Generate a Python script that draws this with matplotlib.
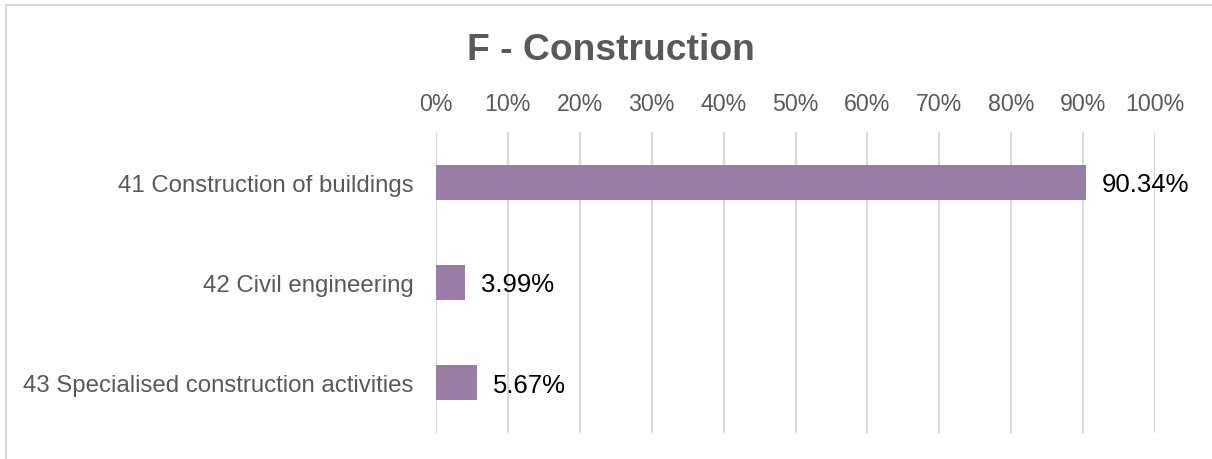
import matplotlib
matplotlib.use("Agg")
import matplotlib.pyplot as plt
from matplotlib.patches import Rectangle
from matplotlib.ticker import PercentFormatter

# Data
categories = ["41 Construction of buildings",
              "42 Civil engineering",
              "43 Specialised construction activities"]
shares = [90.34, 3.99, 5.67]
value_labels = ["90.34%", "3.99%", "5.67%"]
x_ticks = list(range(0, 101, 10))

BAR_COLOR = "#987EA6"
GRID_COLOR = "#D9D9D9"
TEXT_GRAY = "#595959"
W, H = 1212, 460

plt.rcParams["font.family"] = ["Liberation Sans", "DejaVu Sans"]

fig = plt.figure(figsize=(W / 100, H / 100), dpi=100)
ax = fig.add_axes([436 / W, 1 - 434 / H, (1155 - 436) / W, (434 - 133) / H])

y_pos = list(range(len(categories)))
ax.barh(y_pos, shares, height=0.35, color=BAR_COLOR, zorder=3)

for y, v, lab in zip(y_pos, shares, value_labels):
    ax.annotate(lab, xy=(v, y), xytext=(16, -2), textcoords="offset pixels",
                ha="left", va="center", fontsize=18.5, color="black")

ax.set_xlim(0, 100)
ax.set_ylim(len(categories) - 0.5, -0.5)
ax.set_xticks(x_ticks)
ax.xaxis.set_major_formatter(PercentFormatter(decimals=0))
ax.xaxis.tick_top()
ax.set_yticks(y_pos)
ax.set_yticklabels(categories)
ax.tick_params(axis="x", length=0, pad=12, labelsize=16.7, labelcolor=TEXT_GRAY)
ax.tick_params(axis="y", length=0, pad=16, labelsize=17.3, labelcolor=TEXT_GRAY)
ax.grid(axis="x", color=GRID_COLOR, linewidth=1.5, zorder=0)
for s in ax.spines.values():
    s.set_visible(False)

fig.text(611 / W, 1 - 50 / H, "F - Construction", ha="center", va="center",
         fontsize=26.8, fontweight="bold", color=TEXT_GRAY)

# light chart-area border (only left/top edges are visible in the crop)
fig.patches.append(Rectangle((6 / W, -0.05), 1.1, 1 - 6 / H + 0.05,
                             transform=fig.transFigure, fill=False,
                             edgecolor=GRID_COLOR, linewidth=1.5))

fig.savefig("out.png", dpi=100)
